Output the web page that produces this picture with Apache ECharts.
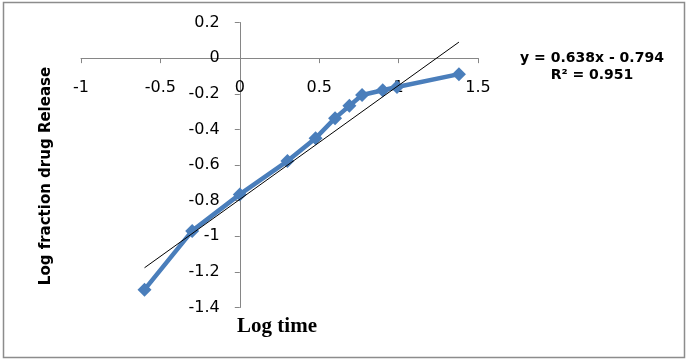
<!DOCTYPE html>
<html><head><meta charset="utf-8">
<script src="https://cdn.jsdelivr.net/npm/echarts@6/dist/echarts.min.js"></script>
<style>html,body{margin:0;padding:0;background:#fff}#c{width:688px;height:361px}</style>
</head><body><div id="c"></div>
<script>
const logTime = [-0.60, -0.30, 0, 0.30, 0.477, 0.60, 0.69, 0.77, 0.90, 0.99, 1.38];
const logFraction = [-1.30, -0.97, -0.765, -0.578, -0.45, -0.337, -0.268, -0.207, -0.18, -0.162, -0.09];
const trendX = [-0.60, 1.38];
const trendY = [-1.177, 0.09];
const xTicks = [-1, -0.5, 0, 0.5, 1, 1.5];
const yTicks = [0.2, 0, -0.2, -0.4, -0.6, -0.8, -1, -1.2, -1.4];
const xTitle = 'Log time';
const yTitle = 'Log fraction drug Release';
const eqText = 'y = 0.638x - 0.794';
const r2Text = 'R² = 0.951';

const W = 688, H = 361;
const gl = 81, gr = 210, gt = 22.5, gb = 53.5;
const xMin = xTicks[0], xMax = xTicks[xTicks.length-1];
const yMin = yTicks[yTicks.length-1], yMax = yTicks[0];
const plotW = W - gl - gr, plotH = H - gt - gb;
// shift axes so they cross at the origin
const xAxisOffset = -(yMax - 0) / (yMax - yMin) * plotH;
const yAxisOffset = -(0 - xMin) / (xMax - xMin) * plotW;

const chart = echarts.init(document.getElementById('c'));
const axisCol = '#868686';
const lblFont = 'DejaVu Sans';
chart.setOption({
  animation: false,
  grid: {left: gl, right: gr, top: gt, bottom: gb},
  xAxis: {
    type: 'value', min: xMin, max: xMax, interval: 0.5, position: 'top', offset: xAxisOffset,
    axisLine: {onZero: false, lineStyle: {color: axisCol, width: 1}},
    axisTick: {show: true, inside: true, length: 5, lineStyle: {color: axisCol}},
    splitLine: {show: false},
    axisLabel: {inside: true, margin: 22, color: '#000', fontFamily: lblFont, fontSize: 16}
  },
  yAxis: {
    type: 'value', min: yMin, max: yMax, interval: 0.2, position: 'left', offset: yAxisOffset,
    axisLine: {onZero: false, lineStyle: {color: axisCol, width: 1}},
    axisTick: {show: true, inside: false, length: 5, lineStyle: {color: axisCol}},
    splitLine: {show: false},
    axisLabel: {margin: 20, color: '#000', fontFamily: lblFont, fontSize: 16,
      formatter: v => String(Math.round(v*10)/10)}
  },
  series: [
    {type: 'line', data: logTime.map((x,i)=>[x, logFraction[i]]),
     lineStyle: {color: '#4A7EBB', width: 4.5}, itemStyle: {color: '#4A7EBB'},
     symbol: 'diamond', symbolSize: 14, z: 2},
    {type: 'line', data: trendX.map((x,i)=>[x, trendY[i]]),
     lineStyle: {color: '#000', width: 1}, symbol: 'none', z: 3}
  ],
  graphic: [
    {type: 'rect', shape: {x: 3.5, y: 2.5, width: 681, height: 355},
     style: {fill: 'none', stroke: '#8c8c8c', lineWidth: 1.5}, silent: true},
    {type: 'text', x: 277, y: 327, style: {text: xTitle, font: 'bold 21px "Liberation Serif"', fill: '#000', textAlign: 'center', textVerticalAlign: 'middle'}},
    {type: 'text', x: 46, y: 176, rotation: Math.PI/2, style: {text: yTitle, font: 'bold 15px "DejaVu Sans"', fill: '#000', textAlign: 'center', textVerticalAlign: 'middle'}},
    {type: 'text', x: 592, y: 58, style: {text: eqText, font: 'bold 14px "DejaVu Sans"', fill: '#000', textAlign: 'center', textVerticalAlign: 'middle'}},
    {type: 'text', x: 592, y: 75, style: {text: r2Text, font: 'bold 14px "DejaVu Sans"', fill: '#000', textAlign: 'center', textVerticalAlign: 'middle'}}
  ]
});
</script></body></html>
